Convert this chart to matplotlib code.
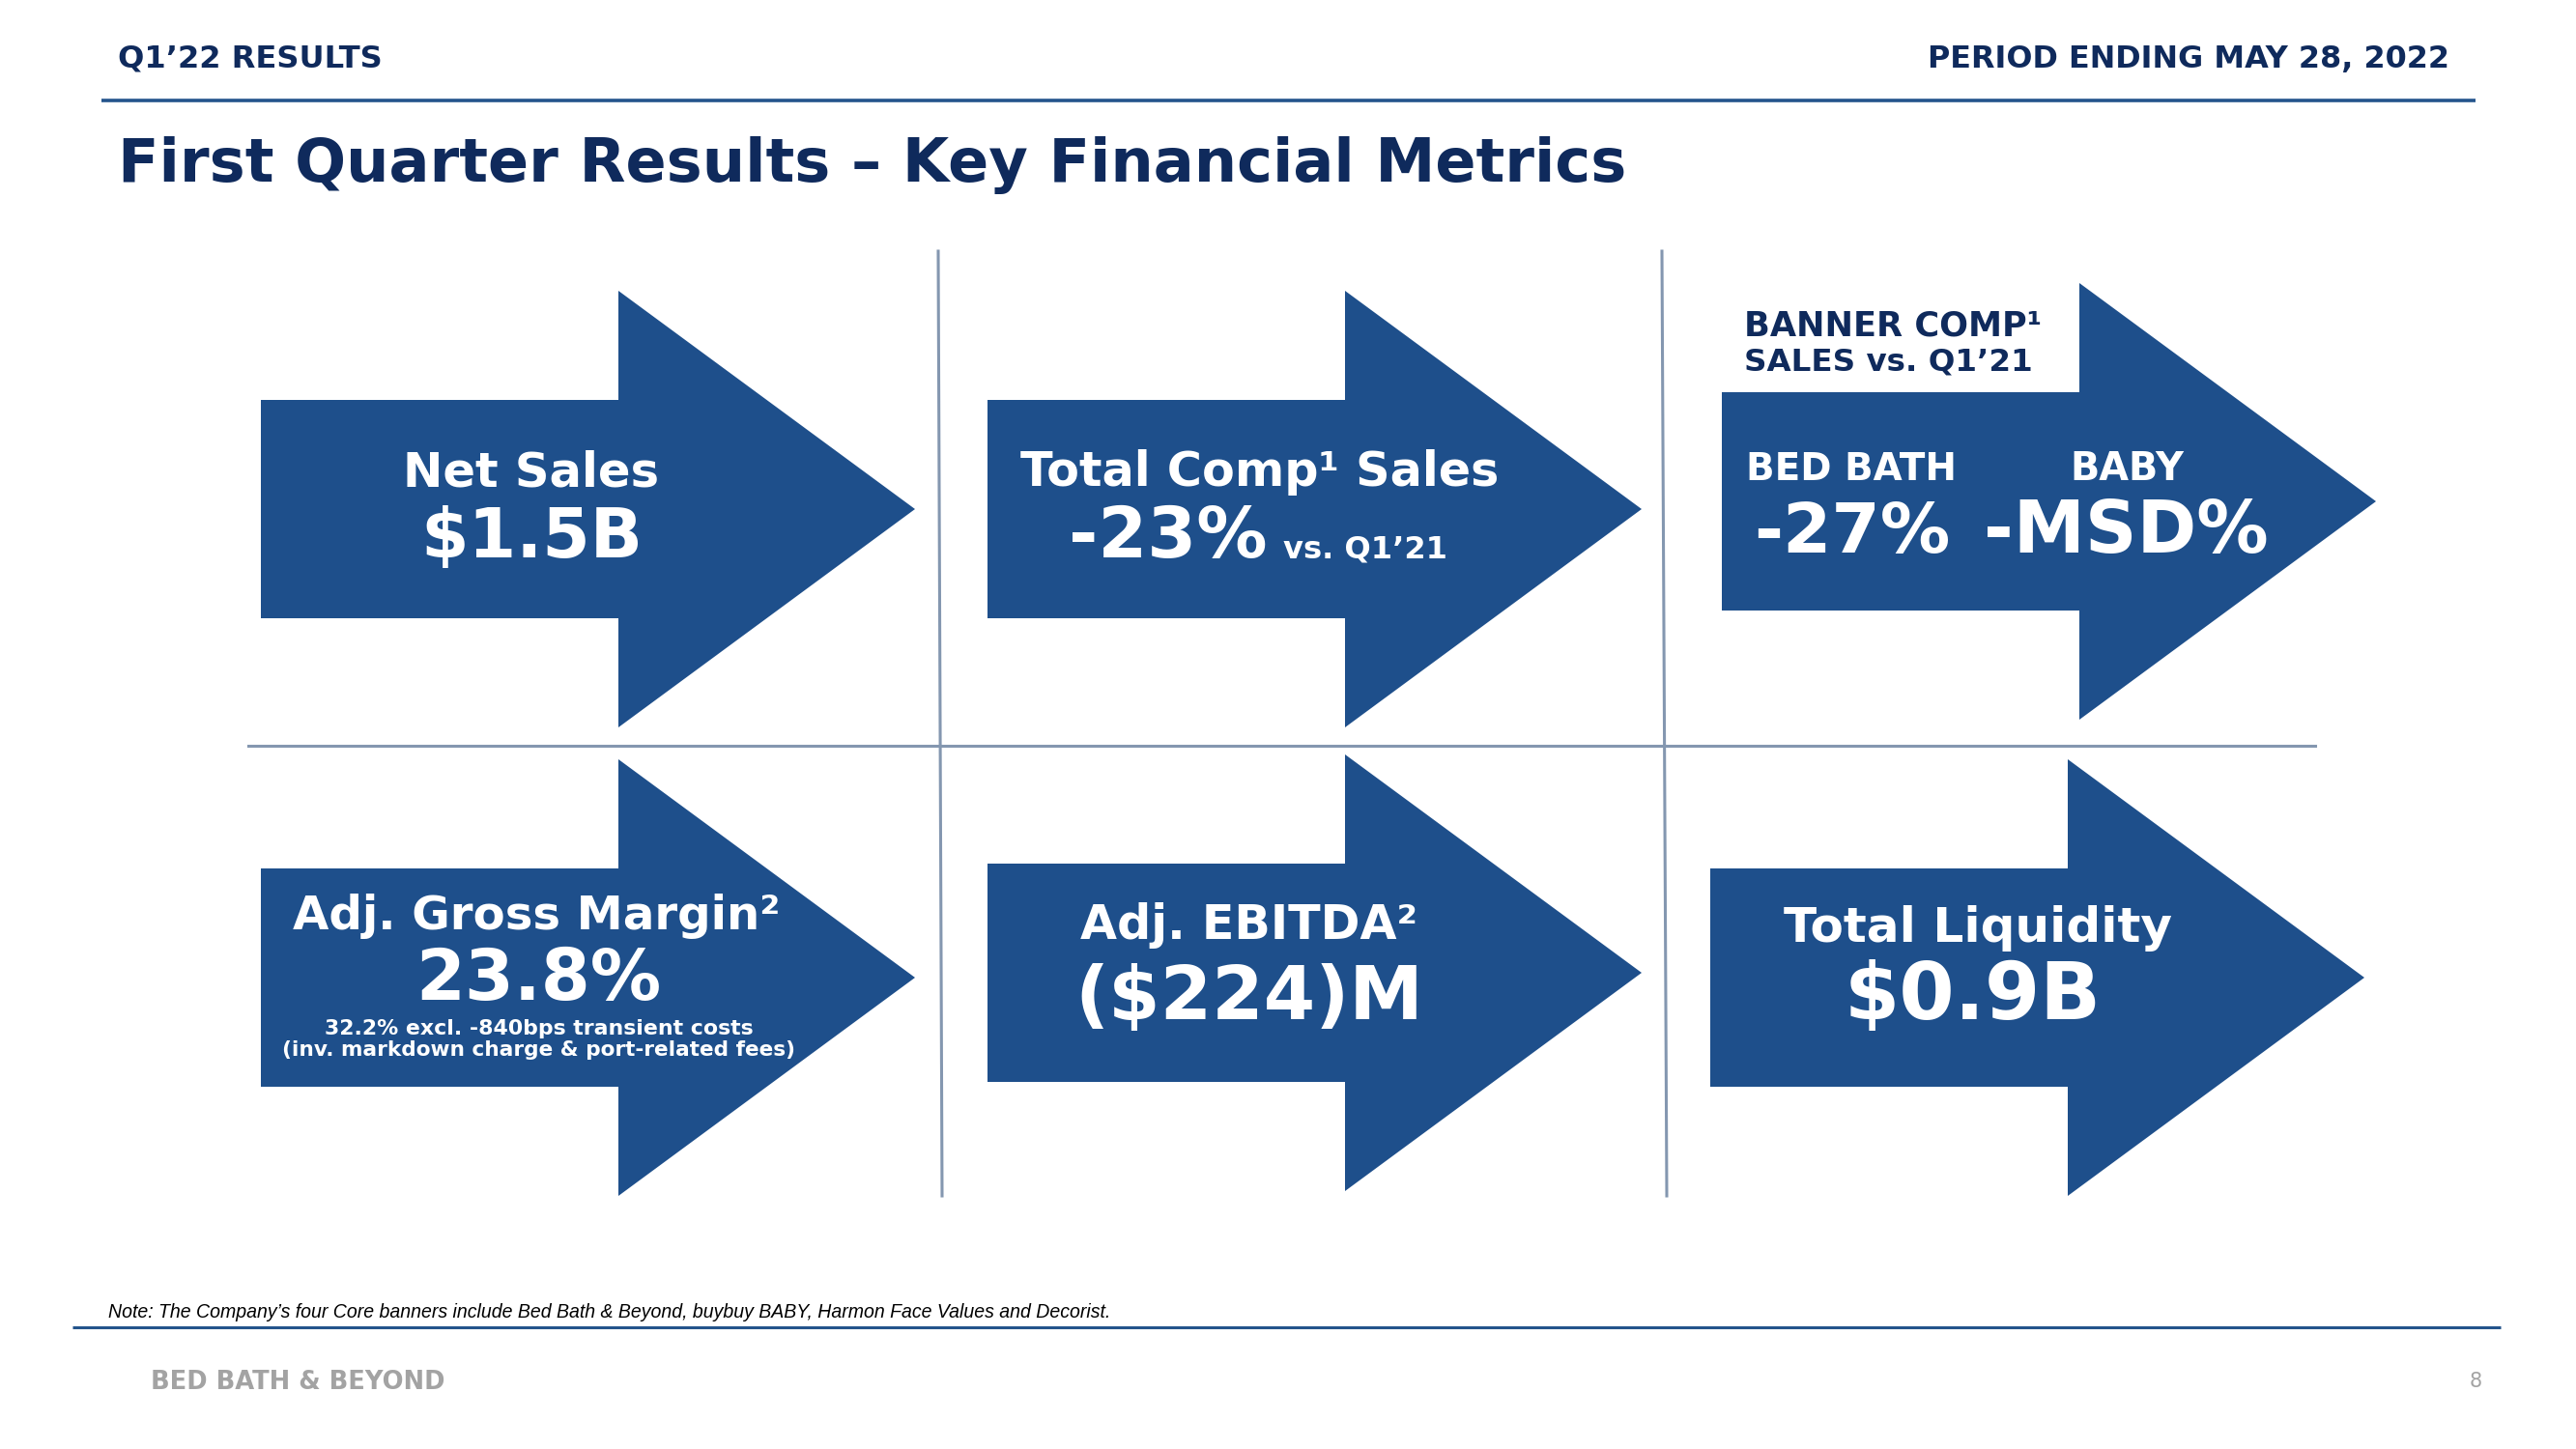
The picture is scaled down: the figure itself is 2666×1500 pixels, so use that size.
"""
Q1'22 key financial metrics slide, redrawn with matplotlib.
"""
import matplotlib
matplotlib.use("Agg")
import matplotlib.pyplot as plt
from matplotlib.patches import Polygon

# ---- slide content -------------------------------------------------------
HEADER_LEFT = "Q1’22 RESULTS"
HEADER_RIGHT = "PERIOD ENDING MAY 28, 2022"
TITLE = "First Quarter Results – Key Financial Metrics"

METRIC_LABELS = ["Net Sales", "Total Comp¹ Sales", "Adj. Gross Margin²",
                 "Adj. EBITDA²", "Total Liquidity"]
METRIC_VALUES = ["$1.5B", "-23%", "23.8%", "($224)M", "$0.9B"]
COMP_SUFFIX = "vs. Q1’21"
GM_NOTES = ["32.2% excl. -840bps transient costs",
            "(inv. markdown charge & port-related fees)"]

BANNER_TITLE = ["BANNER COMP¹", "SALES vs. Q1’21"]
BANNER_NAMES = ["BED BATH", "BABY"]
BANNER_VALUES = ["-27%", "-MSD%"]

FOOTNOTE = ("Note: The Company’s four Core banners include Bed Bath & Beyond, "
            "buybuy BABY, Harmon Face Values and Decorist.")
BRAND = "BED BATH & BEYOND"
PAGE = "8"

# ---- style ---------------------------------------------------------------
NAVY = "#0f2a5c"
ARROW = "#1e4f8b"
RULE = "#24548c"
GRID = "#8497b0"
GREY = "#a3a3a3"

W, H, DPI = 2666, 1500, 100

fig = plt.figure(figsize=(W / DPI, H / DPI), dpi=DPI)
ax = fig.add_axes([0, 0, 1, 1])
ax.set_xlim(0, W)
ax.set_ylim(H, 0)
ax.axis("off")
renderer = fig.canvas.get_renderer()


def put(x, y, s, width, ha="center", color="white", weight="bold",
        style="normal", family=("DejaVu Sans",)):
    """Place text on its baseline and scale it so it spans `width` pixels."""
    t = ax.text(x, y, s, ha=ha, va="baseline", color=color, fontsize=30,
                fontweight=weight, fontstyle=style, family=list(family))
    w = t.get_window_extent(renderer).width
    t.set_fontsize(30 * width / w)
    return t


def arrow(left, cy):
    body, head, neck, tip = 113, 226, 370, 677
    pts = [(left, cy - body), (left + neck, cy - body), (left + neck, cy - head),
           (left + tip, cy), (left + neck, cy + head), (left + neck, cy + body),
           (left, cy + body)]
    ax.add_patch(Polygon(pts, closed=True, facecolor=ARROW, edgecolor="none"))


# header
put(122, 70, HEADER_LEFT, 274, ha="left", color=NAVY)
put(2535, 70, HEADER_RIGHT, 542, ha="right", color=NAVY)
ax.plot([105, 2562], [104, 104], color=RULE, lw=2.6, solid_capstyle="butt")
put(122, 188, TITLE, 1558, ha="left", color=NAVY)

# grid dividers
ax.plot([971, 975], [260, 1238], color=GRID, lw=2.2)
ax.plot([1720, 1725], [260, 1238], color=GRID, lw=2.2)
ax.plot([257, 2396], [772, 772], color=GRID, lw=2.2)

# arrows
for left, cy in [(270, 527), (1022, 527), (1782, 519),
                 (270, 1012), (1022, 1007), (1770, 1012)]:
    arrow(left, cy)

# net sales
put(550, 503, METRIC_LABELS[0], 265)
put(550, 577, METRIC_VALUES[0], 230)

# total comp
put(1304, 503, METRIC_LABELS[1], 495)
put(1312, 577, METRIC_VALUES[1], 205, ha="right")
put(1328, 577, COMP_SUFFIX, 170, ha="left")

# banner comp
put(1805, 347, BANNER_TITLE[0], 308, ha="left", color=NAVY)
put(1805, 383, BANNER_TITLE[1], 298, ha="left", color=NAVY)
put(1807, 497, BANNER_NAMES[0], 218, ha="left")
put(2142, 497, BANNER_NAMES[1], 118, ha="left")
put(1815, 572, BANNER_VALUES[0], 203, ha="left")
put(2053, 572, BANNER_VALUES[1], 295, ha="left")

# gross margin
put(555, 962, METRIC_LABELS[2], 505)
put(557, 1035, METRIC_VALUES[2], 254)
put(558, 1071, GM_NOTES[0], 442)
put(557, 1093, GM_NOTES[1], 531)

# EBITDA
put(1293, 972, METRIC_LABELS[3], 349)
put(1293, 1055, METRIC_VALUES[3], 360)

# liquidity
put(2047, 975, METRIC_LABELS[4], 402)
put(2042, 1055, METRIC_VALUES[4], 266)

# footer
put(112, 1364, FOOTNOTE, 1039, ha="left", color="black", weight="normal",
    style="italic", family=("Liberation Sans Narrow", "Liberation Sans", "DejaVu Sans"))
ax.plot([75, 2588], [1374, 1374], color=RULE, lw=2.2, solid_capstyle="butt")
put(156, 1438, BRAND, 305, ha="left", color=GREY)
ax.text(2562, 1436, PAGE, ha="center", va="baseline", color=GREY, fontsize=15)

fig.savefig("out.png", dpi=DPI)
